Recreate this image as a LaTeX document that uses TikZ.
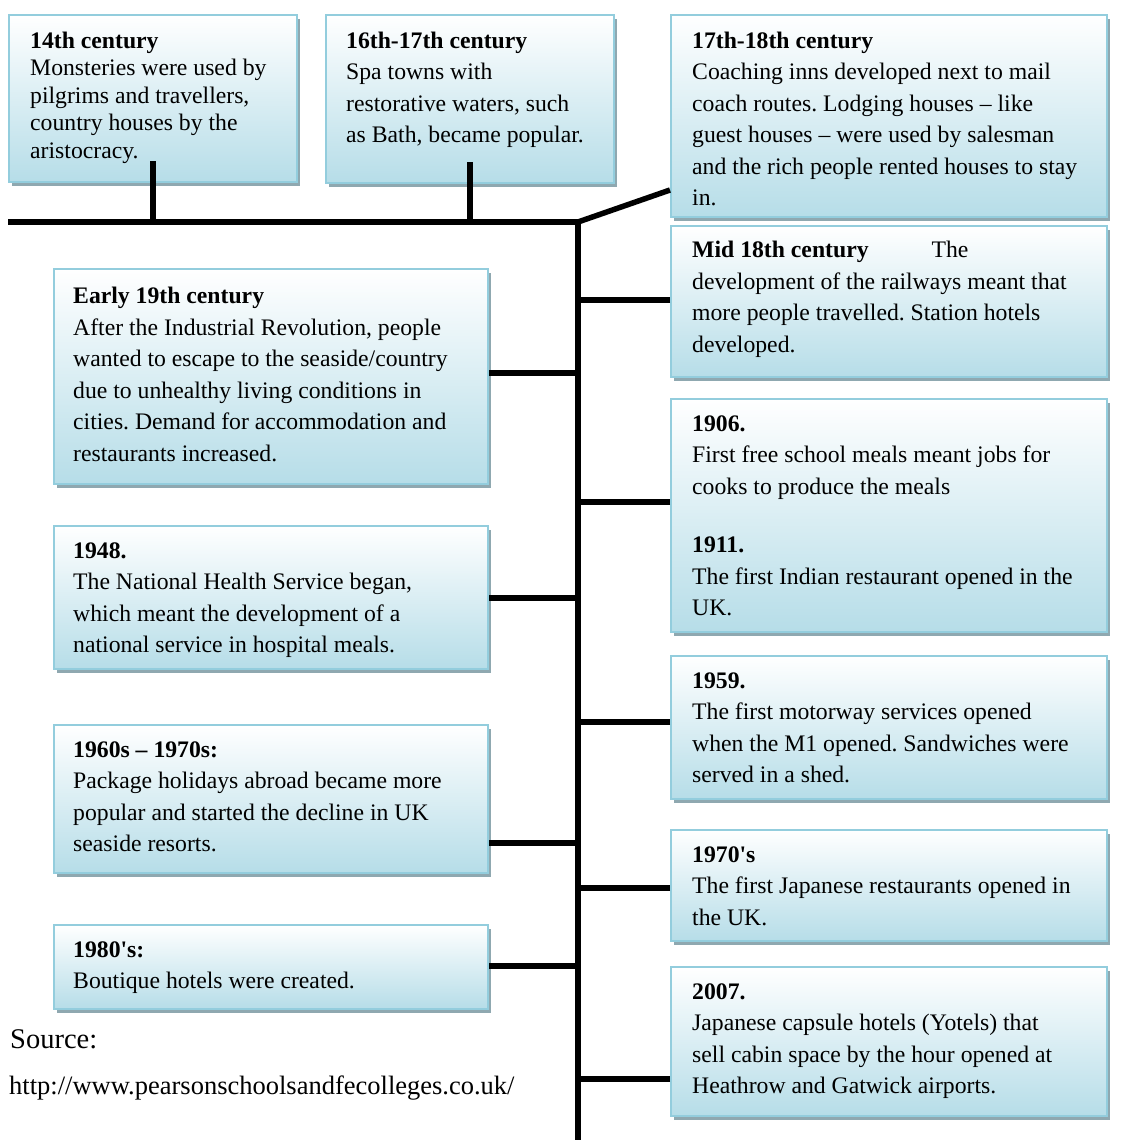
\documentclass[tikz,border=0pt]{standalone}
\usepackage{fontspec}
\setmainfont{Liberation Serif}
\usetikzlibrary{positioning,shadows}

\definecolor{boxline}{HTML}{93CDDD}
\definecolor{boxfill}{HTML}{B6DDE8}
\definecolor{boxshade}{HTML}{8FA8B0}

\newcommand\evfont{\fontsize{23.7pt}{31.5pt}\selectfont}
\frenchspacing

\tikzset{
  evbox/.style={draw=boxline, line width=2pt, top color=white, bottom color=boxfill,
    anchor=north west, inner sep=0pt,
    drop shadow={shadow xshift=3pt, shadow yshift=-4pt, fill=boxshade, opacity=1}},
  evtext/.style={inner sep=0pt, align=left, font=\evfont},
  link/.style={line width=5.5pt}
}

\begin{document}
\begin{tikzpicture}[x=1pt,y=1pt]
\useasboundingbox (0,0) rectangle (1135,-1140);

% boxes along the top
\node[evbox, minimum width=288, minimum height=167] (b1) at (8,-14) {};
\node[evbox, minimum width=288, minimum height=168] (b2) at (325,-14) {};
\node[evbox, minimum width=436, minimum height=202] (b3) at (670,-14) {};

% right column
\node[evbox, minimum width=436, minimum height=151] (b4) at (670,-225) {};
\node[evbox, minimum width=436, minimum height=233] (b6) at (670,-398) {};
\node[evbox, minimum width=436, minimum height=143] (b8) at (670,-655) {};
\node[evbox, minimum width=436, minimum height=111] (b10) at (670,-829) {};
\node[evbox, minimum width=436, minimum height=149] (b12) at (670,-966) {};

% left column
\node[evbox, minimum width=434, minimum height=215] (b5) at (53,-268) {};
\node[evbox, minimum width=434, minimum height=143] (b7) at (53,-525) {};
\node[evbox, minimum width=434, minimum height=148] (b9) at (53,-724) {};
\node[evbox, minimum width=434, minimum height=84] (b11) at (53,-924) {};

% texts
\node[evtext, font=\fontsize{23.7pt}{27.5pt}\selectfont, below right=17.5pt and 22pt of b1.north west] (t1)
  {\textbf{14th century}\\Monsteries were used by\\pilgrims and travellers,\\country houses by the\\aristocracy.};
\node[evtext, below right=17.5pt and 21pt of b2.north west] (t2)
  {\textbf{16th-17th century}\\Spa towns with\\restorative waters, such\\as Bath, became popular.};
\node[evtext, below right=17.5pt and 22pt of b3.north west] (t3)
  {\textbf{17th-18th century}\\Coaching inns developed next to mail\\coach routes. Lodging houses – like\\guest houses – were used by salesman\\and the rich people rented houses to stay\\in.};
\node[evtext, below right=16pt and 22pt of b4.north west] (t4)
  {\textbf{Mid 18th century}\hspace{63pt}The\\development of the railways meant that\\more people travelled. Station hotels\\developed.};
\node[evtext, below right=17.5pt and 22pt of b6.north west] (t6)
  {\textbf{1906.}\\First free school meals meant jobs for\\cooks to produce the meals\\[27pt]\textbf{1911.}\\The first Indian restaurant opened in the\\UK.};
\node[evtext, below right=17.5pt and 22pt of b8.north west] (t8)
  {\textbf{1959.}\\The first motorway services opened\\when the M1 opened. Sandwiches were\\served in a shed.};
\node[evtext, below right=17.5pt and 22pt of b10.north west] (t10)
  {\textbf{1970\textquotesingle{}s}\\The first Japanese restaurants opened in\\the UK.};
\node[evtext, below right=17.5pt and 22pt of b12.north west] (t12)
  {\textbf{2007.}\\Japanese capsule hotels (Yotels) that\\sell cabin space by the hour opened at\\Heathrow and Gatwick airports.};
\node[evtext, below right=19pt and 20pt of b5.north west] (t5)
  {\textbf{Early 19th century}\\After the Industrial Revolution, people\\wanted to escape to the seaside/country\\due to unhealthy living conditions in\\cities. Demand for accommodation and\\restaurants increased.};
\node[evtext, below right=17.5pt and 20pt of b7.north west] (t7)
  {\textbf{1948.}\\The National Health Service began,\\which meant the development of a\\national service in hospital meals.};
\node[evtext, below right=17.5pt and 20pt of b9.north west] (t9)
  {\textbf{1960s – 1970s:}\\Package holidays abroad became more\\popular and started the decline in UK\\seaside resorts.};
\node[evtext, below right=17.5pt and 20pt of b11.north west] (t11)
  {\textbf{1980\textquotesingle{}s:}\\Boutique hotels were created.};

% source
\node[inner sep=0pt, anchor=base west, font=\fontsize{28.5pt}{30pt}\selectfont] (src) at (10,-1048) {Source:};
\node[inner sep=0pt, anchor=base west, font=\fontsize{26.5pt}{28pt}\selectfont] (url) at (9,-1094)
  {http://www.pearsonschoolsandfecolleges.co.uk/};

% time line
\coordinate (start) at (8,-222);
\coordinate (corner) at (578,-222);
\coordinate (foot) at (578,-1140);
\draw[link] (start) -- (corner) -- (foot);
\draw[link] (corner) -- ([yshift=28pt]b3.south west);
\draw[link] ([yshift=22pt]b1.south) -- (b1.south |- corner);
\draw[link] ([yshift=22pt]b2.south) -- (b2.south |- corner);
\foreach \b/\y in {b4/300,b6/502,b8/722,b10/888,b12/1079}
  \draw[link] (\b.west |- 0,-\y) -- (corner |- 0,-\y);
\foreach \b/\y in {b5/373,b7/598,b9/843,b11/966}
  \draw[link] (\b.east |- 0,-\y) -- (corner |- 0,-\y);
\end{tikzpicture}
\end{document}
